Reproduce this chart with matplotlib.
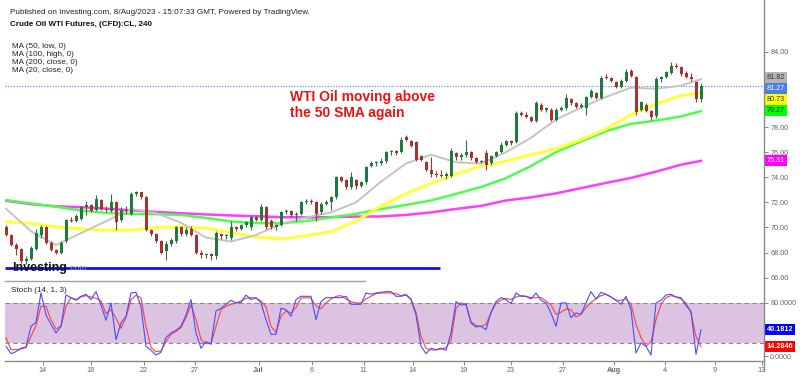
import matplotlib
matplotlib.use("Agg")
import matplotlib.pyplot as plt
from matplotlib.transforms import blended_transform_factory
from matplotlib.lines import Line2D
from matplotlib.patches import Rectangle
from matplotlib.ticker import FormatStrFormatter

plt.rcParams['font.family'] = ['Liberation Sans', 'DejaVu Sans']

# ---------------- data ----------------
opens = [70.0, 69.4, 68.6, 68.3, 67.3, 67.5, 68.3, 69.4, 70.0, 68.8,
         68.2, 68.0, 68.9, 70.6, 70.5, 70.7, 71.6, 71.8, 71.4, 72.2,
         71.5, 71.3, 72.0, 70.6, 71.4, 71.1, 72.7, 72.8, 72.4, 69.8,
         69.5, 68.9, 68.1, 68.7, 68.9, 70.0, 69.5, 69.9, 69.4, 68.0,
         67.8, 67.9, 67.7, 69.5, 69.3, 69.2, 70.0, 69.9, 70.2, 70.0,
         70.8, 70.6, 71.6, 70.5, 70.0, 70.2, 71.2, 71.3, 71.0, 71.1,
         72.0, 72.1, 72.0, 71.2, 71.9, 72.0, 72.4, 74.0, 73.8, 73.2,
         73.8, 73.3, 73.6, 74.9, 75.1, 75.1, 75.3, 76.0, 76.1, 76.0,
         77.2, 76.9, 76.8, 75.7, 75.2, 74.6, 74.3, 74.2, 74.1, 74.1,
         75.9, 75.6, 75.8, 76.0, 75.5, 75.2, 75.9, 75.1, 75.7, 76.0,
         76.6, 76.9, 76.8, 79.1, 79.0, 78.8, 78.5, 79.8, 79.4, 79.4,
         78.6, 79.4, 79.5, 80.2, 79.9, 79.6, 79.5, 80.4, 80.7, 80.3,
         82.0, 81.9, 81.6, 81.2, 81.7, 82.5, 82.0, 79.4, 79.8, 79.3,
         78.9, 81.8, 82.0, 82.3, 82.9, 82.8, 82.3, 82.0, 81.6, 80.2]
closes = [69.4, 68.6, 68.3, 67.3, 67.5, 68.4, 69.6, 70.0, 68.8, 68.2,
          68.0, 68.8, 70.6, 70.5, 70.9, 71.6, 71.8, 71.3, 72.3, 71.5,
          71.4, 72.0, 70.4, 71.4, 71.3, 72.7, 72.8, 72.4, 69.8, 69.5,
          68.9, 68.0, 68.7, 69.0, 70.0, 69.5, 69.8, 69.4, 68.0, 67.8,
          67.9, 67.7, 69.6, 69.3, 69.4, 70.0, 69.9, 70.2, 70.4, 70.8,
          70.6, 71.6, 70.0, 70.0, 70.2, 71.2, 71.3, 71.0, 71.1, 72.0,
          72.1, 72.0, 71.1, 71.9, 72.0, 72.4, 74.0, 73.7, 73.2, 74.0,
          73.3, 73.6, 74.8, 75.1, 75.2, 75.3, 76.0, 76.1, 75.9, 77.0,
          77.0, 76.5, 75.4, 75.4, 74.6, 74.3, 74.2, 74.1, 74.3, 76.1,
          75.6, 75.8, 76.0, 75.5, 75.2, 75.3, 75.0, 75.7, 76.0, 76.6,
          76.9, 76.7, 79.1, 79.0, 78.8, 78.5, 79.9, 79.4, 79.5, 78.6,
          79.4, 79.5, 80.3, 79.9, 79.6, 79.8, 80.4, 80.9, 80.3, 81.9,
          81.9, 81.7, 81.2, 81.7, 82.4, 82.1, 79.2, 80.0, 79.3, 78.8,
          81.8, 82.0, 82.4, 82.9, 82.8, 82.2, 82.0, 81.8, 80.2, 81.27]
highs = [70.2, 69.5, 68.8, 68.4, 67.7, 68.5, 69.9, 70.2, 70.1, 68.9,
         68.3, 68.9, 70.7, 70.8, 71.1, 71.7, 72.1, 71.9, 72.6, 72.3,
         71.7, 72.7, 72.1, 71.6, 71.7, 72.8, 72.9, 72.85, 72.5, 69.9,
         69.6, 69.0, 68.9, 69.2, 70.1, 70.1, 70.0, 70.1, 69.5, 68.2,
         68.0, 68.0, 69.7, 69.6, 69.5, 70.5, 70.1, 70.3, 70.5, 70.9,
         70.9, 71.9, 71.7, 70.7, 70.3, 71.3, 71.5, 71.4, 71.2, 72.1,
         72.3, 72.3, 72.1, 72.0, 72.2, 72.5, 74.1, 74.1, 73.9, 74.4,
         73.9, 73.7, 74.9, 75.3, 75.3, 75.5, 76.1, 76.2, 76.2, 77.2,
         77.4, 77.0, 76.9, 75.8, 75.3, 75.6, 74.5, 74.6, 74.4, 76.3,
         76.0, 75.9, 77.0, 76.1, 75.6, 75.4, 76.2, 75.8, 76.1, 76.8,
         77.0, 77.0, 79.3, 79.3, 79.2, 78.9, 80.1, 79.9, 79.6, 79.5,
         79.5, 79.7, 80.6, 80.3, 80.0, 79.9, 80.5, 81.0, 80.8, 82.1,
         82.2, 82.0, 81.7, 81.8, 82.6, 82.6, 82.1, 80.1, 79.9, 79.4,
         82.0, 82.1, 82.5, 83.2, 83.1, 82.9, 82.5, 82.3, 81.7, 81.5]
lows = [69.3, 68.5, 67.8, 67.2, 67.1, 67.4, 68.2, 69.2, 68.7, 68.1,
        67.9, 67.9, 68.8, 70.4, 70.4, 70.6, 71.0, 71.2, 71.3, 71.4,
        71.2, 71.2, 69.8, 70.4, 71.1, 71.0, 72.5, 72.3, 69.7, 69.3,
        68.8, 67.9, 67.4, 68.5, 68.8, 69.3, 69.3, 69.3, 67.9, 67.6,
        67.6, 67.4, 67.5, 69.1, 69.1, 69.0, 69.7, 69.8, 70.0, 69.8,
        70.5, 70.5, 69.9, 69.9, 69.8, 70.1, 71.1, 70.8, 70.5, 71.0,
        71.9, 71.9, 70.5, 71.1, 71.8, 71.4, 72.3, 73.6, 73.1, 73.1,
        73.1, 73.2, 73.5, 74.8, 74.9, 75.0, 75.1, 75.8, 75.8, 75.9,
        76.9, 76.4, 75.3, 75.3, 74.5, 74.0, 74.0, 74.0, 73.9, 74.0,
        75.4, 75.4, 75.6, 75.4, 75.1, 75.1, 74.6, 75.0, 75.6, 75.9,
        76.5, 76.6, 76.7, 78.9, 78.7, 78.4, 78.4, 79.3, 79.2, 78.5,
        78.5, 79.3, 79.4, 79.8, 79.5, 79.5, 79.0, 80.3, 80.2, 80.2,
        81.8, 81.6, 81.1, 81.1, 81.6, 82.0, 79.0, 79.3, 79.2, 78.6,
        78.7, 81.6, 81.9, 82.2, 82.7, 82.1, 81.9, 81.7, 80.0, 80.0]

# moving averages, sampled every 5 bars (last point = last bar)
ma50_low = [70.45, 70.33, 70.05, 69.88, 69.78, 69.8, 70.0, 70.05, 69.95, 69.6,
            69.25, 69.08, 69.35, 69.67, 70.5, 71.7, 72.7, 73.5, 74.25, 74.9,
            75.28, 75.8, 76.27, 77.0, 77.85, 79.0, 79.85, 80.5, 80.73]
ma100_high = [72.18, 71.92, 71.65, 71.36, 71.16, 71.08, 71.06, 71.0, 70.76, 70.48,
              70.35, 70.33, 70.52, 70.8, 71.08, 71.47, 71.8, 72.15, 72.68, 73.22,
              73.93, 74.9, 76.0, 76.85, 77.67, 78.26, 78.52, 78.85, 79.27]
ma200_close = [72.13, 71.86, 71.69, 71.62, 71.5, 71.37, 71.24, 71.14, 71.04, 70.96,
               70.9, 70.82, 70.81, 70.83, 70.87, 70.88, 71.0, 71.2, 71.48, 71.72,
               72.15, 72.4, 72.72, 73.13, 73.55, 73.95, 74.45, 75.0, 75.31]
ma20_close = [71.5, 69.7, 68.6, 69.55, 70.5, 71.48, 71.15, 70.38, 69.2, 68.88,
              69.4, 70.28, 70.8, 71.2, 72.0, 73.65, 75.1, 75.8, 75.2, 75.1,
              76.0, 77.15, 78.6, 79.55, 80.4, 81.15, 81.05, 81.3, 81.82]

stoch_k = [15, 4, 7, 12, 14, 45, 51, 95, 62, 48,
           35, 45, 92, 88, 85, 90, 93, 85, 97, 77,
           54, 80, 25, 50, 60, 95, 96, 75, 15, 9,
           2, 6, 28, 35, 39, 45, 62, 85, 35, 12,
           22, 18, 68, 72, 78, 84, 80, 81, 92, 85,
           88, 80, 55, 33, 33, 72, 70, 60, 85, 90,
           90, 90, 55, 82, 88, 88, 88, 88, 90, 78,
           78, 78, 95, 93, 95, 96, 97, 97, 90, 90,
           92, 85, 62, 15, 4, 12, 10, 12, 9, 35,
           82, 77, 78, 50, 44, 45, 40, 66, 82, 88,
           85, 79, 95, 90, 90, 86, 95, 84, 80, 65,
           45, 80, 80, 58, 65, 63, 80, 97, 86, 96,
           93, 89, 84, 78, 90, 70, 5, 20, 15, 2,
           80, 84, 92, 93, 89, 88, 76, 68, 3, 40.1812]
stoch_d = [28, 10, 10, 11, 13, 30, 46, 75, 75, 55,
           41, 45, 75, 88, 84, 89, 91, 89, 87, 83,
           64, 70, 57, 42, 58, 85, 91.5, 88, 45, 13,
           7, 8, 22, 33, 37, 43, 58, 77, 55, 25,
           19, 19.5, 45, 70, 75, 78, 80, 83, 87, 88,
           87, 83, 74, 45, 36, 60, 68, 65, 73, 87,
           88, 87, 76, 71, 80, 86, 90, 91, 86, 82,
           80, 80, 86, 90, 94, 95, 95, 95, 94, 91,
           93, 86, 66, 30, 12, 9.5, 9.5, 11, 13, 24,
           72, 80, 78, 52, 46, 45, 48, 65, 80, 84,
           87, 85, 89, 91, 90, 88, 88, 88, 83, 77,
           63, 66, 71, 70, 59, 63, 73, 81, 86, 91,
           93, 89, 84, 84, 86, 78, 48, 28, 15, 22,
           55, 78, 88, 91, 89, 86, 80, 65, 30, 14.2846]

date_labels = ["14", "18", "22", "27", "Jul", "6", "11", "14", "19", "23", "27", "Aug", "4", "9", "13"]
date_pos = [7.4, 16.9, 27.5, 37.8, 50.5, 61.1, 71.5, 81.3, 91.5, 101, 111.3, 121.5, 131.8, 141.8, 151.1]

support_level = 66.8
support_end = 86.8
last_price = 81.27
price_ticks = [66, 68, 70, 72, 74, 76, 78, 84]

ma_names = ["MA (50, low, 0)", "MA (100, high, 0)", "MA (200, close, 0)", "MA (20, close, 0)"]

# ---------------- figure ----------------
W, H = 800, 376
fig = plt.figure(figsize=(W / 100, H / 100), dpi=100)


def fx(px):
    return px / W


def fy(py):
    return 1 - py / H


ax = fig.add_axes([fx(5), fy(282), fx(764) - fx(5), fy(0) - fy(282)])
ax2 = fig.add_axes([fx(5), fy(361), fx(764) - fx(5), fy(283) - fy(361)])

XLIM = (-0.2, 151.6)
for a in (ax, ax2):
    a.set_xlim(*XLIM)
    a.set_facecolor('none')
    for s in a.spines.values():
        s.set_visible(False)
ax.set_ylim(65.657, 88.127)
ax2.set_ylim(-7.05, 109.95)

n = len(closes)
xs = list(range(n))
UP, DN = '#1f7a3c', '#a8322d'
cols = [UP if c >= o else DN for o, c in zip(opens, closes)]
bottoms = [min(o, c) for o, c in zip(opens, closes)]
heights = [max(abs(c - o), 0.05) for o, c in zip(opens, closes)]

# MAs
ma_x = list(range(0, n, 5)) + [n - 1]
ax.plot(ma_x, ma200_close, color='#ff3cff', lw=1.8, zorder=2, solid_joinstyle='round')
ax.plot(ma_x, ma100_high, color='#4cff4c', lw=1.8, zorder=2, solid_joinstyle='round')
ax.plot(ma_x, ma50_low, color='#ffff40', lw=2.2, zorder=2, solid_joinstyle='round')
ax.plot(ma_x, ma20_close, color='#c4c4c4', lw=1.4, zorder=2, solid_joinstyle='round')

# candles
ax.vlines(xs, lows, highs, colors=cols, lw=0.8, zorder=3)
ax.bar(xs, heights, bottom=bottoms, width=0.6, color=cols, linewidth=0, zorder=4)

# last price dotted line and support line
ax.axhline(last_price, color='#4a7ee8', lw=0.8, ls=(0, (1, 1.5)), zorder=1)
ax.plot([XLIM[0], support_end], [support_level, support_level], color='#0a12f0', lw=2, zorder=5,
        solid_capstyle='butt')

# price axis
ax.yaxis.tick_right()
ax.set_yticks(price_ticks)
ax.yaxis.set_major_formatter(FormatStrFormatter('%.2f'))
ax.tick_params(axis='y', length=3, width=0.7, color='#888888', labelsize=5.2,
               labelcolor='#666666', pad=1.5)
ax.set_xticks([])

# value labels on price axis
tr = blended_transform_factory(ax.transAxes, ax.transData)
value_labels = [("81.82", 81.93, '#b4b4b4', '#333333'),
                ("81.27", 81.08, '#4a7ee8', 'white'),
                ("80.73", 80.22, '#ffff00', '#333333'),
                ("79.27", 79.30, '#00ff00', '#333333'),
                ("75.31", 75.34, '#ff00ff', 'white')]
xl = (766.5 - 5) / 759
for txt, yv, bg, fgc in value_labels:
    ax.text(xl, yv, txt, transform=tr, fontsize=5.2, color=fgc, ha='left', va='center',
            clip_on=False, zorder=10,
            bbox=dict(boxstyle='square,pad=0.3', fc=bg, ec='none'))

# stochastic panel
ax2.axhspan(20, 80, color='#dcc3e1', lw=0, zorder=0)
for lvl in (20, 80):
    ax2.axhline(lvl, color='#8a8a8a', lw=0.8, ls=(0, (4, 3)), zorder=1)
ax2.plot(xs, stoch_k, color='#4b4bff', lw=0.8, zorder=3)
ax2.plot(xs, stoch_d, color='#ff4040', lw=0.8, zorder=2)
ax2.spines['bottom'].set_visible(True)
ax2.spines['bottom'].set_color('#8a8a8a')
ax2.spines['bottom'].set_linewidth(1)
ax2.yaxis.tick_right()
ax2.set_yticks([0, 80])
ax2.yaxis.set_major_formatter(FormatStrFormatter('%.4f'))
ax2.tick_params(axis='y', length=3, width=0.7, color='#888888', labelsize=5.2,
                labelcolor='#666666', pad=1.5)
ax2.set_xticks(date_pos)
ax2.set_xticklabels(date_labels)
ax2.tick_params(axis='x', length=3, width=0.7, color='#888888', labelsize=5.2,
                labelcolor='#666666', pad=1.5)
for lab in ax2.get_xticklabels():
    if lab.get_text() in ("Jul", "Aug"):
        lab.set_fontweight('bold')

tr2 = blended_transform_factory(ax2.transAxes, ax2.transData)
for txt, yv, bg in [("40.1812", stoch_k[-1], '#0000ff'), ("14.2846", stoch_d[-1], '#ff0000')]:
    ax2.text(xl, yv, txt, transform=tr2, fontsize=5.2, color='white', ha='left', va='center',
             clip_on=False, zorder=10, fontweight='bold',
             bbox=dict(boxstyle='square,pad=0.3', fc=bg, ec='none'))

# mask the part of the last date label that runs under the price scale
fig.add_artist(Rectangle((fx(764.6), fy(376)), fx(800) - fx(764.6), fy(362.5) - fy(376),
                         transform=fig.transFigure, facecolor='white', edgecolor='none', zorder=50))

# frame lines
fig.add_artist(Line2D([fx(764), fx(764)], [fy(0), fy(371)], color='#8a8a8a', lw=1, zorder=51))
fig.add_artist(Line2D([fx(5), fx(365)], [fy(281), fy(281)], color='#a0a0a0', lw=1))

# texts
fig.text(fx(10), fy(12), "Published on Investing.com, 8/Aug/2023 - 15:07:33 GMT, Powered by TradingView.",
         fontsize=5.9, color='#222222', va='center', ha='left')
fig.text(fx(10), fy(25), "Crude Oil WTI Futures, (CFD):CL, 240", fontsize=5.8, fontweight='bold',
         color='#111111', va='center', ha='left')
for k, name in enumerate(ma_names):
    fig.text(fx(11.5), fy(46.7 + 7.8 * k), name, fontsize=5.9, color='#222222', va='center', ha='left')
fig.text(fx(11), fy(290.5), "Stoch (14, 1, 3)", fontsize=5.9, color='#222222', va='center', ha='left')

fig.text(fx(290), fy(101), "WTI Oil moving above", fontsize=10, fontweight='bold', color='#ee1111',
         va='baseline', ha='left')
fig.text(fx(290), fy(117), "the 50 SMA again", fontsize=10, fontweight='bold', color='#ee1111',
         va='baseline', ha='left')

fig.text(fx(12.5), fy(270.5), "Investing", fontsize=9, fontweight='bold', color='#111111',
         va='baseline', ha='left', zorder=20)
fig.text(fx(68), fy(270.5), ".com", fontsize=6, color='#999999', va='baseline', ha='left', zorder=20)

fig.savefig("out.png", dpi=100)
